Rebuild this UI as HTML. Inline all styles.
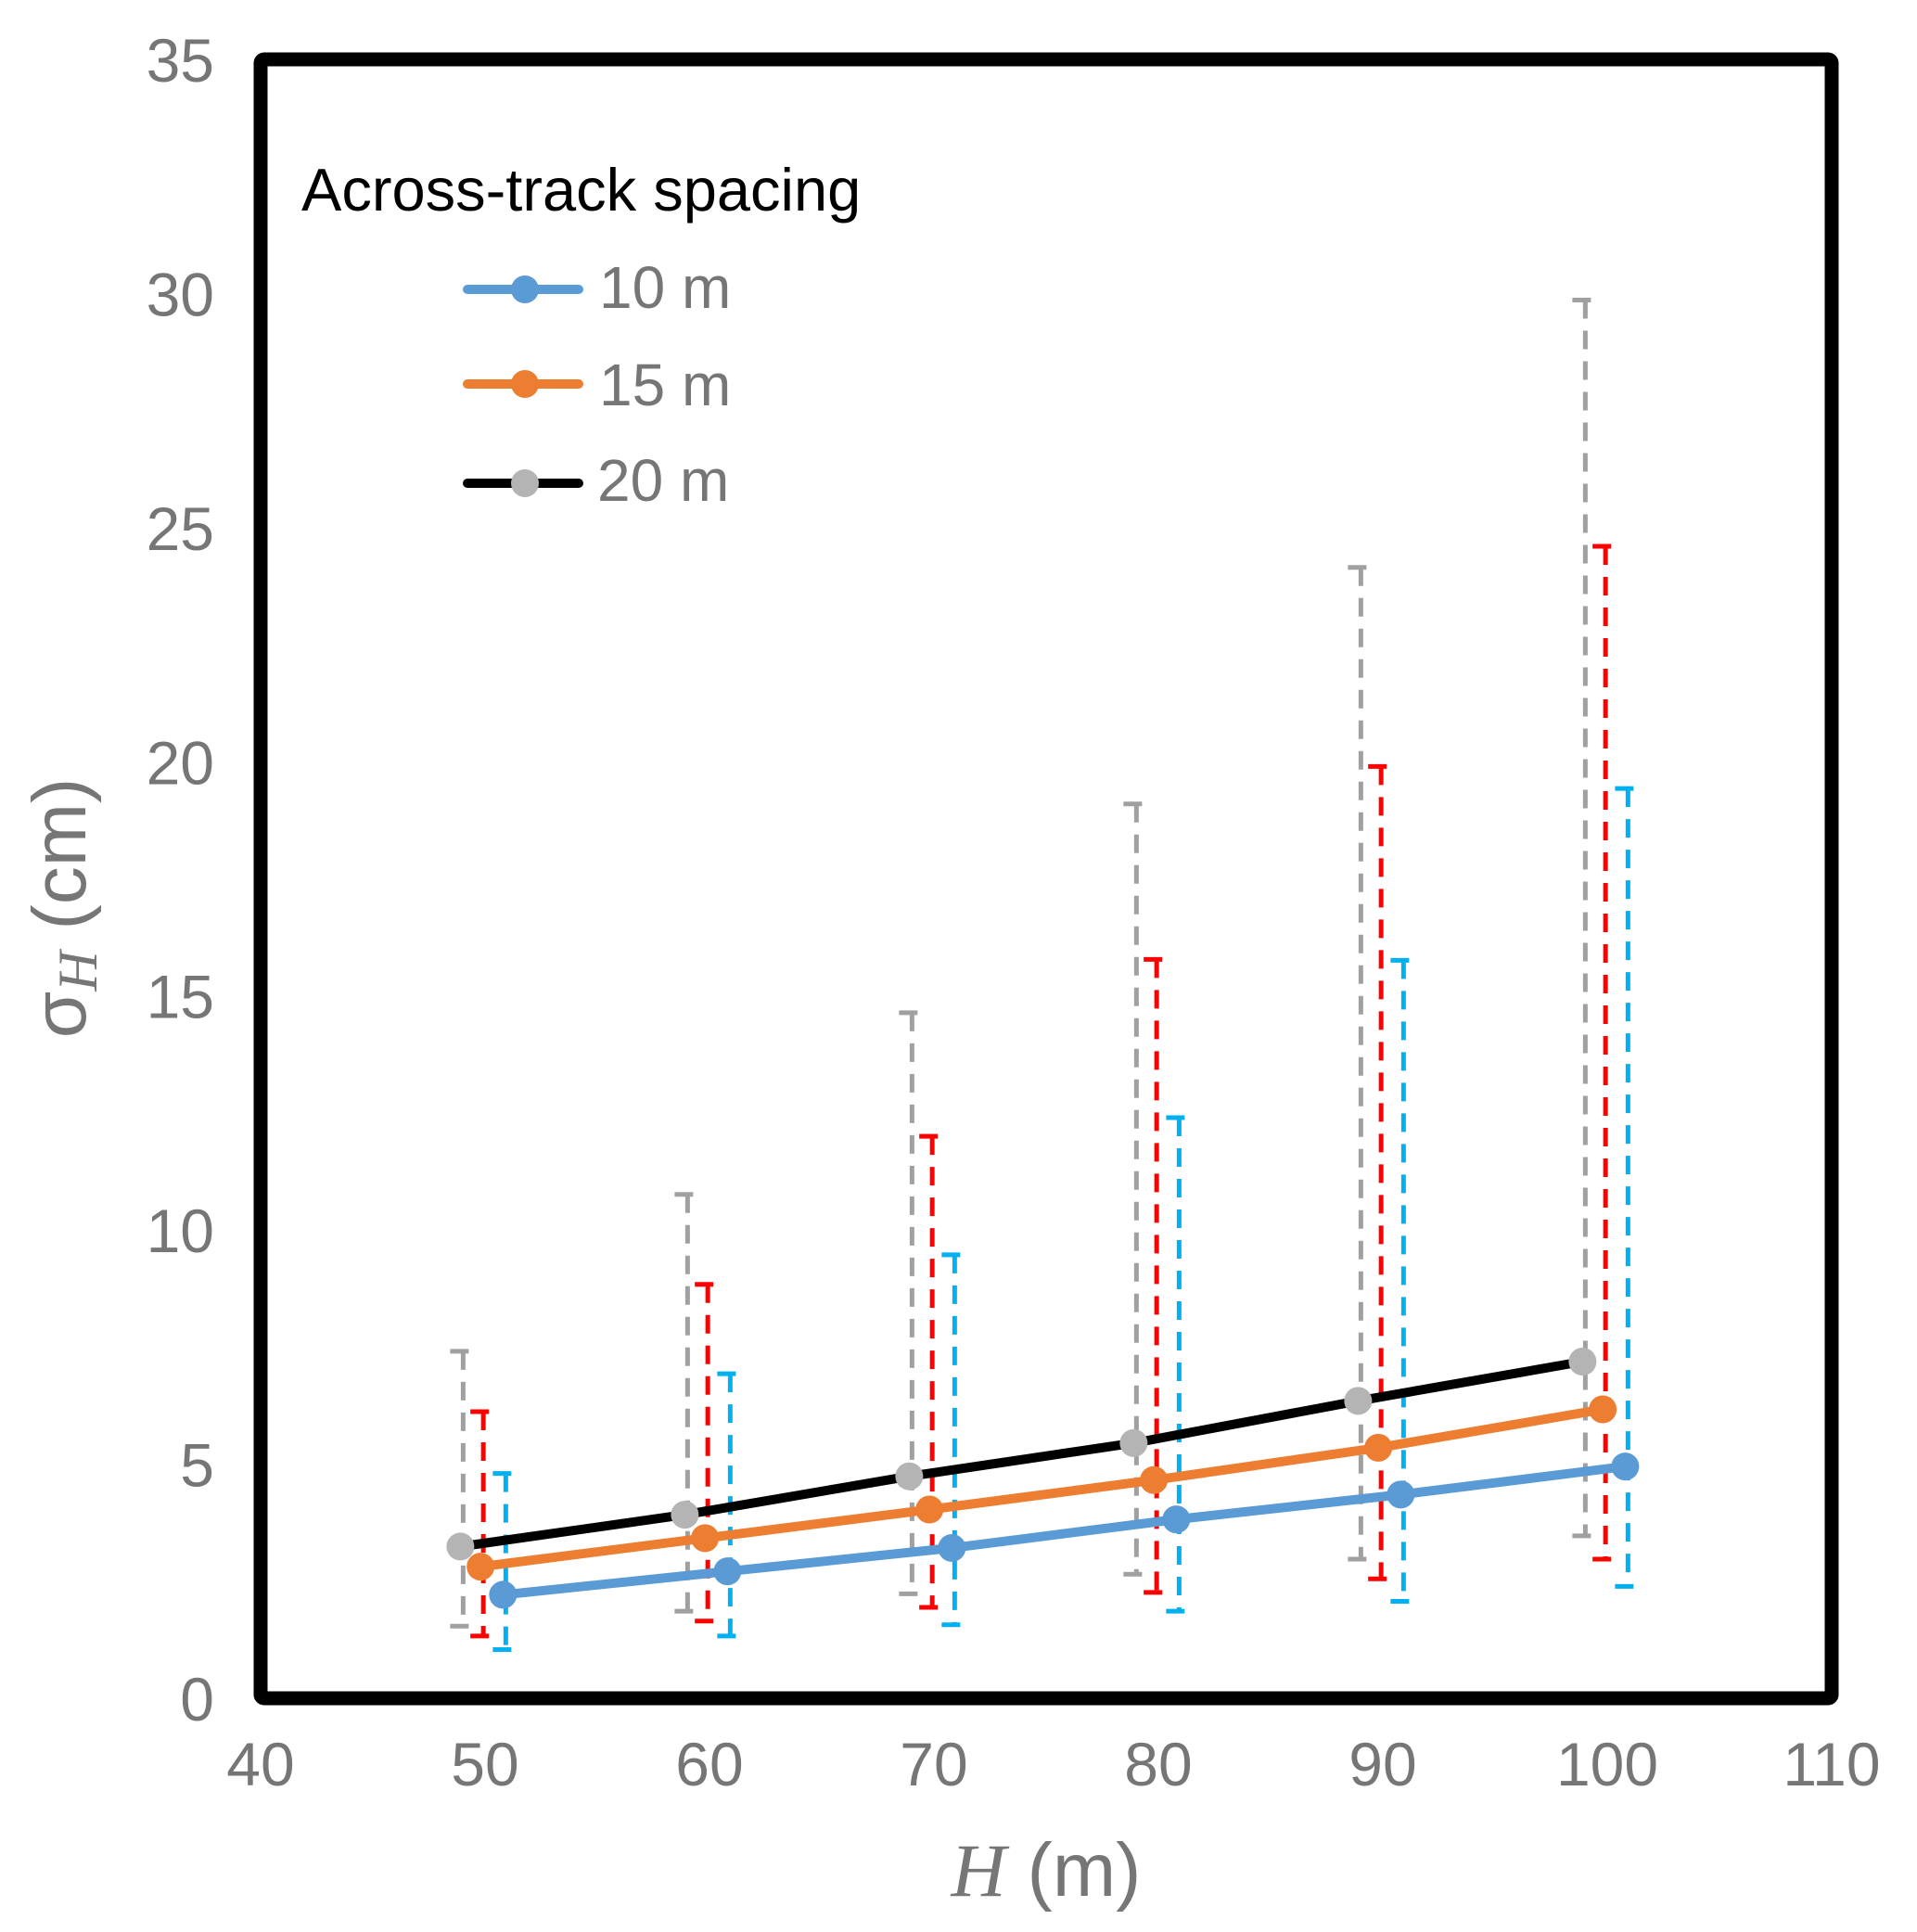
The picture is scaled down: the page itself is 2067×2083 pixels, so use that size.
<!DOCTYPE html>
<html><head><meta charset="utf-8"><style>
html,body{margin:0;padding:0;background:#fff;}
svg{display:block;font-family:"Liberation Sans",Arial,sans-serif;}
</style></head><body>
<svg id="chart" width="2067" height="2083" viewBox="0 0 2067 2083" xmlns="http://www.w3.org/2000/svg">
<rect x="0" y="0" width="2067" height="2083" fill="#fff"/>
<g id="ticks"></g>
<g id="errs"></g>
<g id="series"></g>
<rect x="281" y="64" width="1694" height="1767" fill="none" stroke="#000" stroke-width="15" rx="4"/>
<text x="325" y="227" font-size="65" fill="#000">Across-track spacing</text>
<g>
<line x1="504" y1="312" x2="624" y2="312" stroke="#5B9BD5" stroke-width="10" stroke-linecap="round"/>
<circle cx="566" cy="312" r="15" fill="#5B9BD5"/>
<text x="646" y="332" font-size="64" fill="#767676">10 m</text></g>
<g>
<line x1="504" y1="414" x2="624" y2="414" stroke="#ED7D31" stroke-width="10" stroke-linecap="round"/>
<circle cx="566" cy="414" r="15" fill="#ED7D31"/>
<text x="646" y="437" font-size="64" fill="#767676">15 m</text></g>
<g>
<line x1="504" y1="521" x2="624" y2="521" stroke="#000" stroke-width="10" stroke-linecap="round"/>
<circle cx="566" cy="521" r="15" fill="#B4B4B4"/>
<text x="644" y="540" font-size="64" fill="#767676">20 m</text></g>
<text transform="translate(92,979) rotate(-90)" text-anchor="middle" font-size="82" fill="#767676">σ<tspan font-family="Liberation Serif,serif" font-style="italic" font-size="60" dy="12">H</tspan><tspan dy="-12"> (cm)</tspan></text>
<text x="1128" y="2044" text-anchor="middle" font-size="82" fill="#767676"><tspan font-family="Liberation Serif,serif" font-style="italic">H</tspan> (m)</text>
</svg>
<script>
const xTicks=[40,50,60,70,80,90,100,110];
const yTicks=[0,5,10,15,20,25,30,35];
const H=[50,60,70,80,90,100];
const val10=[2.21,2.71,3.21,3.82,4.35,4.95];
const val15=[2.81,3.42,4.03,4.66,5.35,6.17];
const val20=[3.24,3.92,4.74,5.45,6.35,7.19];
const hi10=[4.80,6.93,9.47,12.4,15.76,19.43];
const lo10=[1.04,1.33,1.57,1.86,2.07,2.39];
const hi15=[6.12,8.84,12.0,15.78,19.9,24.6];
const lo15=[1.33,1.65,1.94,2.26,2.55,2.97];
const hi20=[7.41,10.76,14.64,19.1,24.15,29.86];
const lo20=[1.54,1.86,2.23,2.65,2.97,3.47];
const off10=0.8, off15=-0.2, off20=-1.1;

const NS='http://www.w3.org/2000/svg';
const X=v=>281+(v-40)*(1694/70);
const Y=v=>1831-v*(1767/35);
function mk(tag,attrs,parent){const e=document.createElementNS(NS,tag);for(const k in attrs)e.setAttribute(k,attrs[k]);parent.appendChild(e);return e;}
const tg=document.getElementById('ticks');
xTicks.forEach(t=>{const e=mk('text',{x:X(t),y:1925,'text-anchor':'middle','font-size':66,fill:'#767676'},tg);e.textContent=t;

});
yTicks.forEach(t=>{const e=mk('text',{x:231,y:Y(t)+24,'text-anchor':'end','font-size':66,fill:'#767676'},tg);e.textContent=t;

});
const eg=document.getElementById('errs');
function errs(hi,lo,off,col,name){H.forEach((h,i)=>{const x=X(h+off)+3;
const l=mk('line',{x1:x,x2:x,y1:Y(hi[i]),y2:Y(lo[i]),stroke:col,'stroke-width':5,'stroke-dasharray':'20 13'},eg);


[hi[i],lo[i]].forEach(v=>{const c=mk('line',{x1:x-14,x2:x+6,y1:Y(v),y2:Y(v),stroke:col,'stroke-width':5},eg);

});});}
errs(hi20,lo20,off20,'#A0A0A0','20m');
errs(hi15,lo15,off15,'#FF0000','15m');
errs(hi10,lo10,off10,'#00B0F0','10m');
const sg=document.getElementById('series');
function series(vals,off,lc,mc,name){const pts=H.map((h,i)=>X(h+off)+','+Y(vals[i])).join(' ');
const p=mk('polyline',{points:pts,fill:'none',stroke:lc,'stroke-width':10,'stroke-linejoin':'round'},sg);


H.forEach((h,i)=>{const c=mk('circle',{cx:X(h+off),cy:Y(vals[i]),r:15,fill:mc},sg);

});}
series(val20,off20,'#000','#B4B4B4','20m');
series(val15,off15,'#ED7D31','#ED7D31','15m');
series(val10,off10,'#5B9BD5','#5B9BD5','10m');
</script>
</body></html>
